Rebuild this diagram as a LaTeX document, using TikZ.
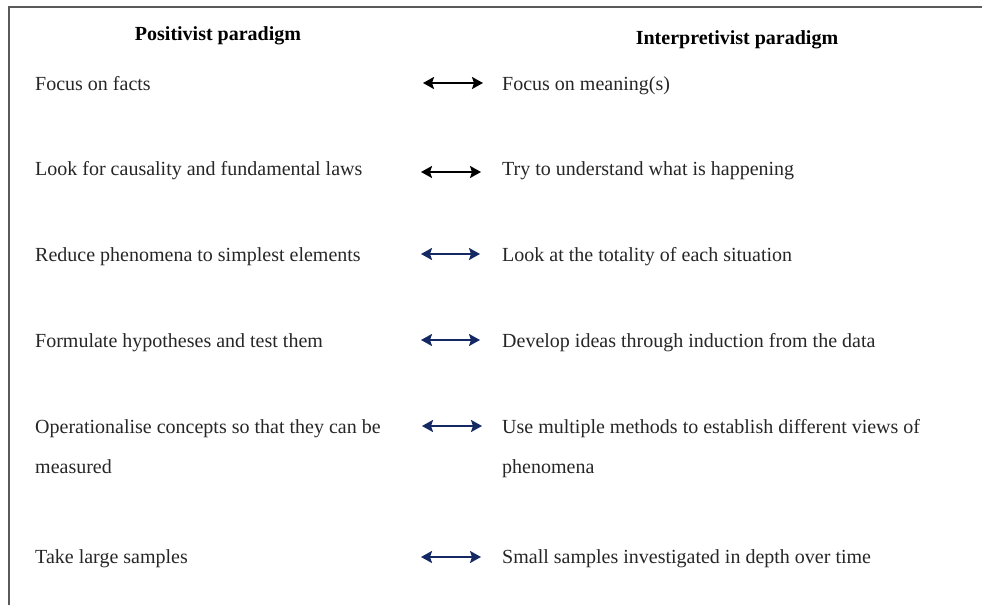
\documentclass[tikz,border=0pt]{standalone}
\usepackage{fontspec}
\setmainfont{Liberation Serif}
\usetikzlibrary{arrows.meta}
\definecolor{navy}{RGB}{20,40,100}
\definecolor{frame}{RGB}{90,90,90}
\tikzset{
  txt/.style={anchor=base west, inner sep=0pt, font=\fontsize{20}{40}\selectfont, text=black!85},
  head/.style={anchor=base, inner sep=0pt, font=\fontsize{20}{24}\selectfont\bfseries},
  link/.style={{Stealth[length=11pt,width=12pt,inset=2pt]}-{Stealth[length=11pt,width=12pt,inset=2pt]}, line width=2pt},
}
\begin{document}
\begin{tikzpicture}[x=1pt,y=-1pt]
\useasboundingbox (0,0) rectangle (982,605);
\draw[frame, line width=1.8pt] (9,605) -- (9,7) -- (982,7);
\node[head] (hl) at (218,40) {Positivist paradigm};
\node[head] (hr) at (737,44) {Interpretivist paradigm};
% rows
\node[txt] (l1) at (35,90) {Focus on facts};
\node[txt] (r1) at (502,90) {Focus on meaning(s)};
\node[txt] (l2) at (35,175) {Look for causality and fundamental laws};
\node[txt] (r2) at (502,175) {Try to understand what is happening};
\node[txt] (l3) at (35,261) {Reduce phenomena to simplest elements};
\node[txt] (r3) at (502,261) {Look at the totality of each situation};
\node[txt] (l4) at (35,347) {Formulate hypotheses and test them};
\node[txt] (r4) at (502,347) {Develop ideas through induction from the data};
\node[txt] (l5) at (35,433) {Operationalise concepts so that they can be};
\node[txt] (l5b) at (35,473) {measured};
\node[txt] (r5) at (502,433) {Use multiple methods to establish different views of};
\node[txt] (r5b) at (502,473) {phenomena};
\node[txt] (l6) at (35,563) {Take large samples};
\node[txt] (r6) at (502,563) {Small samples investigated in depth over time};
% arrows
\coordinate (a1) at (423,83);   \coordinate (b1) at (483,83);
\coordinate (a2) at (421,172);  \coordinate (b2) at (481,172);
\coordinate (a3) at (421,254);  \coordinate (b3) at (480,254);
\coordinate (a4) at (421,340);  \coordinate (b4) at (480,340);
\coordinate (a5) at (422,426);  \coordinate (b5) at (482,426);
\coordinate (a6) at (421,557);  \coordinate (b6) at (481,557);
\draw[link, black] (a1) -- (b1);
\draw[link, black] (a2) -- (b2);
\draw[link, navy] (a3) -- (b3);
\draw[link, navy] (a4) -- (b4);
\draw[link, navy] (a5) -- (b5);
\draw[link, navy] (a6) -- (b6);
\end{tikzpicture}
\end{document}
